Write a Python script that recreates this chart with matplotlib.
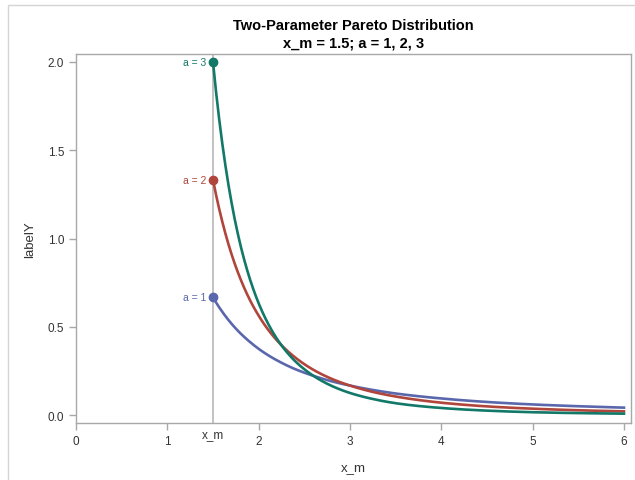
import matplotlib
matplotlib.use("Agg")
import matplotlib.pyplot as plt
from matplotlib.lines import Line2D
import numpy as np

plt.rcParams['font.family'] = ['Liberation Sans', 'DejaVu Sans']

# ---- data ----
x = [1.5, 1.55, 1.6, 1.65, 1.7, 1.8, 1.9, 2.0, 2.1, 2.2, 2.4, 2.6, 2.8,
     3.0, 3.25, 3.5, 4.0, 4.5, 5.0, 5.5, 6.0]
y_a1 = [0.667, 0.624, 0.586, 0.551, 0.519, 0.463, 0.416, 0.375, 0.340, 0.310,
        0.260, 0.222, 0.191, 0.167, 0.142, 0.122, 0.094, 0.074, 0.060, 0.050, 0.042]
y_a2 = [1.333, 1.208, 1.099, 1.002, 0.916, 0.772, 0.656, 0.563, 0.486, 0.423,
        0.326, 0.256, 0.205, 0.167, 0.131, 0.105, 0.070, 0.049, 0.036, 0.027, 0.021]
y_a3 = [2.000, 1.754, 1.545, 1.366, 1.212, 0.964, 0.777, 0.633, 0.521, 0.432,
        0.305, 0.222, 0.165, 0.125, 0.091, 0.067, 0.040, 0.025, 0.016, 0.011, 0.008]
labels = ["a = 1", "a = 2", "a = 3"]
colors = ["#5a67ac", "#b0463b", "#127868"]
x_m = 1.5

fig = plt.figure(figsize=(6.35, 4.81), dpi=100)
ax = fig.add_axes([76/635, 57/481, 555/635, 369/481])

# smooth drawing between read points (log-log interpolation)
xs = np.linspace(x[0], x[-1], 400)
lx = np.log(x)
for ys, lab, c in zip([y_a1, y_a2, y_a3], labels, colors):
    yy = np.exp(np.interp(np.log(xs), lx, np.log(ys)))
    ax.plot(xs, yy, color=c, lw=1.9, zorder=3)
    ax.plot(x[0], ys[0], 'o', color=c, ms=6, zorder=4)
    ax.text(x[0] - 0.07, ys[0], lab, color=c, fontsize=7.5,
            ha='right', va='center')

ax.axvline(x_m, color='#b8b8b8', lw=1.2, zorder=1)

ax.set_xlim(0, 6.077)
ax.set_ylim(-0.045, 2.045)
ax.set_xticks([0, 1, 2, 3, 4, 5, 6])
ax.set_yticks([0.0, 0.5, 1.0, 1.5, 2.0])
ax.set_yticklabels(["0.0", "0.5", "1.0", "1.5", "2.0"])

for s in ax.spines.values():
    s.set_color('#a8a8a8')
    s.set_linewidth(1)
ax.tick_params(colors='#a8a8a8', labelcolor='#333333', labelsize=8.5,
               length=5, width=1)

ax.text(x_m, -0.031, "x_m", transform=ax.get_xaxis_transform(),
        ha='center', va='center', fontsize=8.5, color='#333333')

ax.set_xlabel("x_m", fontsize=9.5, color='#333333', labelpad=10)
ax.set_ylabel("labelY", fontsize=9.5, color='#333333', labelpad=8)

fig.text(0.557, 1 - 26/481, "Two-Parameter Pareto Distribution",
         ha='center', va='center', fontsize=10.5, fontweight='bold')
fig.text(0.557, 1 - 43/481, "x_m = 1.5; a = 1, 2, 3",
         ha='center', va='center', fontsize=10.5, fontweight='bold')

# outer frame (top and left)
fig.add_artist(Line2D([8/635, 8/635, 634/635], [0, 1 - 6/481, 1 - 6/481],
                      transform=fig.transFigure, color='#d4d4d4', lw=1))

fig.savefig("out.png", dpi=100)
